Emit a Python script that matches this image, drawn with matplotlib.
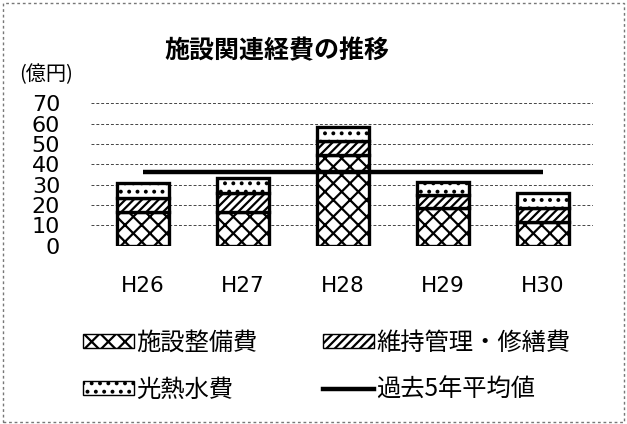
import numpy as np
import matplotlib
matplotlib.use("Agg")
import matplotlib.pyplot as plt
from matplotlib.patches import Patch, Rectangle
from matplotlib.lines import Line2D

plt.rcParams['font.family'] = ['Noto Sans CJK JP', 'DejaVu Sans']
plt.rcParams['hatch.linewidth'] = 1.6

years = ["H26", "H27", "H28", "H29", "H30"]
facility = [16.7, 16.7, 44.6, 18.4, 11.8]     # 施設整備費
maintenance = [6.6, 9.0, 6.9, 6.5, 6.9]       # 維持管理・修繕費
utilities = [7.7, 7.8, 7.0, 6.6, 7.4]         # 光熱水費
avg5 = [36.1, 36.1, 36.1, 36.1, 36.1]         # 過去5年平均値
yticks = [0, 10, 20, 30, 40, 50, 60, 70]

fig = plt.figure(figsize=(6.27, 4.24), dpi=100)
ax = fig.add_axes([0.1447, 0.4205, 0.8011, 0.3359])

x = np.arange(len(years))
w = 0.52
bot2 = np.array(facility)
bot3 = bot2 + np.array(maintenance)

b1 = ax.bar(x, facility, w, color='white', edgecolor='black', lw=2.4, hatch='xx')
b2 = ax.bar(x, maintenance, w, bottom=bot2, color='white', edgecolor='black', lw=2.4, hatch='////')
b3 = ax.bar(x, utilities, w, bottom=bot3, color='white', edgecolor='black', lw=2.4, hatch='..')
ln, = ax.plot(x, avg5, color='black', lw=3.2, solid_capstyle='butt', zorder=5)

ax.set_xlim(-0.52, 4.5)
ax.set_ylim(0, 70)
ax.set_yticks(yticks)
ax.set_yticklabels([str(v) for v in yticks], fontsize=16, family='DejaVu Sans')
ax.set_xticks(x)
ax.set_xticklabels(years, fontsize=15.5, family='DejaVu Sans')
ax.tick_params(axis='y', length=0, pad=22)
ax.tick_params(axis='x', length=0, pad=22)
for s in ax.spines.values():
    s.set_visible(False)
ax.yaxis.grid(True, color='#444444', lw=0.7, ls=(0, (3, 2)))
ax.set_axisbelow(True)

fig.text(0.442, 0.880, "施設関連経費の推移", fontsize=18, fontweight='bold',
         ha='center', va='center')
fig.text(0.030, 0.824, "(億円)", fontsize=14.5, ha='left', va='center')

handles = [
    Patch(facecolor='white', edgecolor='black', hatch='xx', lw=1),
    Patch(facecolor='white', edgecolor='black', hatch='..', lw=1),
    Patch(facecolor='white', edgecolor='black', hatch='////', lw=1),
    Line2D([0], [0], color='black', lw=3.2),
]
labels = ["施設整備費", "光熱水費", "維持管理・修繕費", "過去5年平均値"]
fig.legend(handles, labels, ncol=2, loc='upper left', bbox_to_anchor=(0.132, 0.222),
           frameon=False, fontsize=17.5, handlelength=2.1, handleheight=0.5,
           handletextpad=0.1, columnspacing=2.7, labelspacing=0.85,
           borderpad=0, borderaxespad=0)

fig.add_artist(Rectangle((0.004, 0.004), 0.992, 0.99, transform=fig.transFigure,
                         fill=False, edgecolor='#777777', lw=1, ls=(0, (2, 2))))

fig.savefig("out.png", dpi=100)
